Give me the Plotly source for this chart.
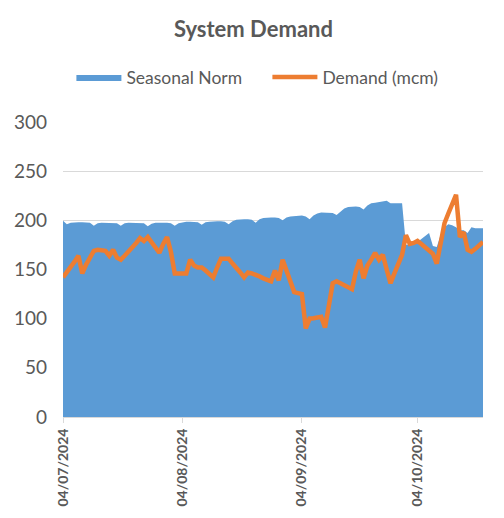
import pandas as pd
import plotly.graph_objects as go

# daily data, 04/07/2024 onwards
start_date = "2024-07-04"

seasonal_norm = [
    199.5, 196, 197.5, 198, 198, 198, 198, 197.5, 194.5, 197,
    197.5, 197.5, 197.5, 197.5, 197, 194.5, 197, 197.5, 197.5, 197.5,
    197.5, 197, 194, 196.5, 197.5, 197.5, 198, 197.5, 197, 194.5,
    197, 198, 198.5, 198.5, 198.5, 198, 195.5, 198, 198.5, 199,
    199, 199, 198.5, 196, 199, 200.5, 201, 201, 201, 200.5,
    197.5, 201, 202.5, 203, 203, 203, 202.5, 200, 203, 204,
    204.5, 205, 205, 204, 201, 205, 207, 208, 208, 208,
    207.5, 205.5, 209, 212, 213.5, 214, 214, 213.5, 211, 215,
    217.5, 218, 218.5, 219, 220, 217.5, 217.5, 217.5, 217.5, 175,
    176, 177, 178, 181, 184, 187, 174, 173, 185, 193,
    196, 195, 193, 190, 190, 187, 193, 192, 192, 192,
]

demand = [
    142, 147, 153, 158, 164, 146, 155, 163, 169, 170,
    170, 169, 164, 170, 162, 160, 164, 168, 172, 177,
    182, 179, 183, 178, 172, 167, 176, 183, 168, 146,
    146, 146, 146, 160, 154, 152, 152, 149, 146, 142,
    152, 161, 161, 161, 156, 152, 147, 142, 147, 146,
    145, 143, 141, 140, 138, 149, 139, 160, 150, 138,
    127, 126, 125, 90, 100, 100.5, 101, 102, 91, 113,
    136, 138, 136, 134, 133, 130, 148, 160, 141, 154,
    160, 167, 160, 165, 150, 136, 146, 156, 165, 185,
    176, 177, 179, 176, 173, 170, 166, 156, 176, 197,
    207, 216, 226, 183, 188, 170, 168, 171, 174, 178,
]

tick_dates = ["2024-07-04", "2024-08-04", "2024-09-04", "2024-10-04"]
tick_labels = ["04/07/2024", "04/08/2024", "04/09/2024", "04/10/2024"]

dates = pd.date_range(start_date, periods=len(demand), freq="D")

grey = "#595959"

fig = go.Figure()

fig.add_trace(go.Scatter(
    name="Seasonal Norm",
    x=dates, y=seasonal_norm,
    mode="lines",
    line=dict(width=0, color="#5B9BD5"),
    fill="tozeroy",
    fillcolor="#5B9BD5",
))

fig.add_trace(go.Scatter(
    name="Demand (mcm)",
    x=dates, y=demand,
    mode="lines",
    line=dict(width=4.5, color="#ED7D31"),
))

# page has an 8px body margin, so the margins are shifted to compensate
fig.update_layout(
    width=504, height=518,
    margin=dict(l=55, r=29, t=114, b=109),
    paper_bgcolor="white",
    plot_bgcolor="white",
    font=dict(family="Lato, Open Sans, sans-serif", color=grey),
    title=dict(
        text="<b>System Demand</b>",
        x=0.487, xanchor="center",
        y=1 - 21 / 518, yanchor="middle",
        font=dict(size=22, color=grey),
    ),
    legend=dict(
        orientation="h",
        x=0.02, xanchor="left",
        y=1.1525, yanchor="middle",
        font=dict(size=17.5, color=grey),
        itemwidth=45,
        entrywidth=136,
    ),
    showlegend=True,
)

fig.update_xaxes(
    range=[dates[0], dates[-1]],
    tickvals=tick_dates,
    ticktext=tick_labels,
    tickangle=-90,
    tickfont=dict(size=14, color=grey, family="Lato, sans-serif", weight="bold"),
    showgrid=False,
    showline=True,
    linecolor="#D9D9D9",
    linewidth=1,
    ticks="outside",
    ticklen=5,
    tickcolor="#D9D9D9",
    zeroline=False,
    automargin=False,
)

fig.update_yaxes(
    range=[0, 300],
    tick0=0, dtick=50,
    tickfont=dict(size=19, color=grey),
    showgrid=True,
    gridcolor="#D9D9D9",
    gridwidth=1,
    zeroline=False,
    showline=False,
    ticks="",
    ticklabelstandoff=15,
    automargin=False,
)

fig.write_html("out.html")
